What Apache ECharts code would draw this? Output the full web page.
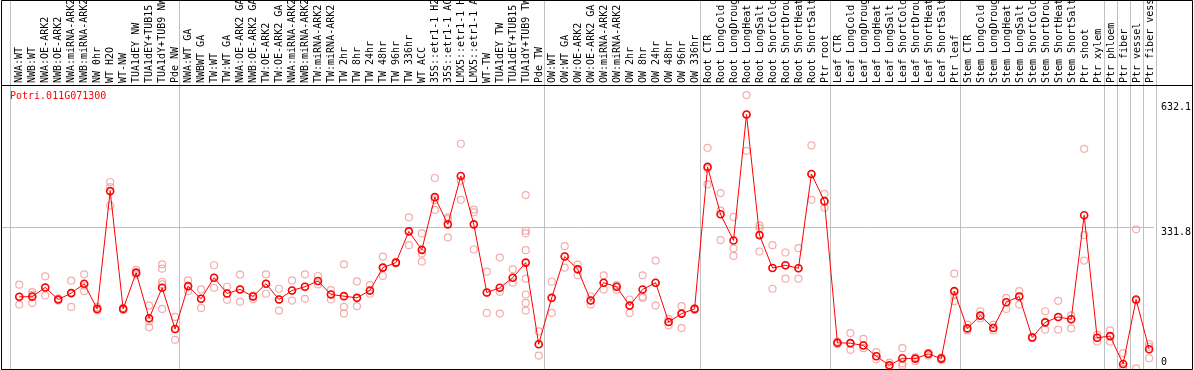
<!DOCTYPE html>
<html><head><meta charset="utf-8">
<script src="https://cdn.jsdelivr.net/npm/echarts@6/dist/echarts.min.js"></script>
<style>html,body{margin:0;padding:0;background:#fff}#c{width:1194px;height:370px}</style>
</head><body><div id="c"></div>
<script>
const geneId = 'Potri.011G071300';
const categories = [
  'NWA:WT','NWB:WT','NWA:OE-ARK2','NWB:OE-ARK2','NWA:miRNA-ARK2','NWB:miRNA-ARK2','NW 0hr','WT H2O','WT-NW',
  'TUA1dEY NW','TUA1dEY+TUB15 NW','TUA1dY+TUB9 NW','Pde NW',
  'NWA:WT GA','NWBWT GA','TW:WT','TW:WT GA','NWA:OE-ARK2 GA','NWB:OE-ARK2 GA','TW:OE-ARK2','TW:OE-ARK2 GA',
  'NWA:miRNA-ARK2 GA','NWB:miRNA-ARK2 GA','TW:miRNA-ARK2','TW:miRNA-ARK2 GA',
  'TW 2hr','TW 8hr','TW 24hr','TW 48hr','TW 96hr','TW 336hr','WT ACC',
  '35S::etr1-1 H2O','35S::etr1-1 ACC','LMX5::etr1-1 H2O','LMX5::etr1-1 ACC',
  'WT-TW','TUA1dEY TW','TUA1dEY+TUB15 TW','TUA1dY+TUB9 TW','Pde TW',
  'OW:WT','OW:WT GA','OW:OE-ARK2','OW:OE-ARK2 GA','OW:miRNA-ARK2','OW:miRNA-ARK2 GA',
  'OW 2hr','OW 8hr','OW 24hr','OW 48hr','OW 96hr','OW 336hr',
  'Root CTR','Root LongCold','Root LongDrought','Root LongHeat','Root LongSalt','Root ShortCold','Root ShortDrought','Root ShortHeat','Root ShortSalt','Ptr root',
  'Leaf CTR','Leaf LongCold','Leaf LongDrought','Leaf LongHeat','Leaf LongSalt','Leaf ShortCold','Leaf ShortDrought','Leaf ShortHeat','Leaf ShortSalt','Ptr leaf',
  'Stem CTR','Stem LongCold','Stem LongDrought','Stem LongHeat','Stem LongSalt','Stem ShortCold','Stem ShortDrought','Stem ShortHeat','Stem ShortSalt','Ptr shoot',
  'Ptr xylem','Ptr phloem','Ptr fiber','Ptr vessel','Ptr fiber vessel'
];
const meanValues = [
  168.7,169,190.6,162.4,177.3,199.2,140.4,415.7,140.4,225.1,118.4,189.8,93.3,
  193.7,164,213.3,176.5,185.9,169.4,199.2,162.4,183.5,192.2,205.5,174.1,
  170.2,166.3,183.5,236.9,248.6,321.6,278.4,401.6,338.0,451.0,338.0,
  178.8,189.8,213.3,248.6,58.0,
  166.3,262.7,232.9,160,201.6,192.2,148.2,185.9,201.6,109.8,129.4,140.4,
  472.2,361.6,300.4,594.5,312.9,236,242.4,235.3,455.7,392.2,
  61.2,60.4,54.9,29.8,8.6,25.1,24.3,35.3,24.3,181.9,
  94.9,124.7,95.7,156.1,169.4,73.7,109,121.6,116.1,359.2,
  72.9,76.9,11.8,162.4,46.3
];
const replicates = [
  [197,150.6,168],[179.6,174,154.5],[216.5,171.8,190],[160,165,162],[206.3,145.1,178],[221.2,181.9,195],
  [145,137,140],[436.9,425,381.9],[143,138,140],[231.4,221,224],[148.2,111.4,97.3],
  [244.7,234.5,203.9,197.6,140.4],[121.6,68.2,93],
  [207,181.9,193],[185.9,142.7,164],[242.4,189.8,213],[192.2,161.6,176],[220.4,156.9,186],[172,163,169],
  [221.2,175.8,199],[187.5,136.5,162],[207,160,183],[221.2,164,192],[217.3,197.6,205],[184.3,162.4,174],
  [244.7,145.1,129.4],[204.7,146.7,166],[196,175.8,183],[262.7,217.3,237],[250,247,249],[354.5,289.4,322],
  [316.9,251.0,270],[446.3,395,371.8],[354.5,307.5,350],[526.3,395.3,440],[372.5,366,279.2],
  [227.5,131,178],[260.4,180,129.4],[232.9,201.6,213],[406.3,323,317,277.6,211,174.1,154.5,136.5],[87.8,31.4,58],
  [203.9,131,166],[287,236.9,263],[244,219,233],[170,150.6,160],[218.8,185.9,201],[196,185,192],
  [162.4,131,148],[218.8,169,166],[253.3,148.2,201],[117,102,110],[146.7,95.7,129],[142,138,140],
  [516.9,468,431.3],[411,370.2,301.2],[355.3,281.6,264.3],[640,594,509.8],[334.9,328.7,274.5],
  [289.4,187.5,236],[272.2,211,242],[282.4,211,235],[522.4,395.3,455],[409.4,376.5,392],
  [64,58,61],[84,44.7,60],[70.6,48.6,55],[39.2,22.7,30],[14.9,5,8],[48.6,13.3,7.8],[28,18,24],[38,31,35],[27,21,24],
  [222.7,171.8,158.4],
  [103.5,90.2,95],[134.9,118,125],[103,90,96],[166.3,140.4,156],[181.9,150.6,170],[75,72,74],
  [134.9,91.8,109],[159.2,91.8,121],[125.5,94.9,116],[514.5,312.9,253.3],
  [80,64.3,73],[90.2,64.3,77],[36.9,0,5],[326.3,1.6,160],[58,52,25.1]
];
const yTickValues = [0, 331.8, 632.1];
const yTickLabels = ['0', '331.8', '632.1'];
const groupStarts = [0, 13, 41, 53, 63, 73, 84, 85, 86, 87];

const FONT = 'DejaVu Sans Mono';
const chart = echarts.init(document.getElementById('c'), null, {renderer: 'canvas'});

const mainData = meanValues.map((v, i) => [i, v]);
const repData = [];
replicates.forEach((arr, i) => arr.forEach(v => repData.push([i, v])));

const sepLine = {
  show: true,
  interval: (idx) => groupStarts.indexOf(idx) >= 0,
  lineStyle: {color: '#c0c0c0', width: 1}
};
const hiddenCat = {axisLine: {show: false}, axisTick: {show: false}, axisLabel: {show: false}};

chart.setOption({
  animation: false,
  backgroundColor: '#fff',
  title: {
    text: geneId, left: 10, top: 91, padding: 0,
    textStyle: {color: '#ff0000', fontFamily: FONT, fontSize: 10, fontWeight: 'normal'}
  },
  grid: [
    {left: 12.8, width: 1144, top: 0, height: 85},
    {left: 1, right: 38, top: 85, bottom: 1},
    {left: 10, right: 38, top: 85, bottom: 1},
    {left: 10, right: 38, top: 0, height: 85}
  ],
  xAxis: [
    {type: 'category', gridIndex: 0, data: categories, position: 'bottom', boundaryGap: true,
      axisLine: {show: false}, axisTick: {show: false}, splitLine: {show: false},
      axisLabel: {inside: true, rotate: 90, interval: 0, margin: 2,
        color: '#000', fontFamily: FONT, fontSize: 10}},
    {type: 'value', gridIndex: 1, min: -1.407, max: 87.37, show: false, splitLine: {show: false}},
    Object.assign({type: 'category', gridIndex: 2, data: categories, boundaryGap: true, splitLine: sepLine}, hiddenCat),
    Object.assign({type: 'category', gridIndex: 3, data: categories, boundaryGap: true, splitLine: sepLine}, hiddenCat)
  ],
  yAxis: [
    {type: 'value', gridIndex: 0, show: false, splitLine: {show: false}},
    {type: 'value', gridIndex: 1, position: 'right', min: 0, max: 663.6, interval: 331.8,
      axisLine: {show: false}, axisTick: {show: false},
      splitLine: {show: true, lineStyle: {color: '#c0c0c0', width: 1}},
      axisLabel: {
        customValues: yTickValues, margin: 7, color: '#000', fontFamily: FONT, fontSize: 10,
        formatter: function (v) {
          const i = yTickValues.findIndex(t => Math.abs(t - v) < 1e-6);
          const key = i === 0 ? 'z' : (i === 1 ? 'm' : 't');
          return '{' + key + '|' + (i >= 0 ? yTickLabels[i] : v) + '}';
        },
        rich: {
          z: {fontFamily: FONT, fontSize: 10, color: '#000', padding: [0, 0, 14, 0]},
          m: {fontFamily: FONT, fontSize: 10, color: '#000', padding: [10, 0, 0, 0]},
          t: {fontFamily: FONT, fontSize: 10, color: '#000', padding: [17, 0, 0, 0]}
        }
      }},
    {type: 'value', gridIndex: 2, show: false, splitLine: {show: false}},
    {type: 'value', gridIndex: 3, show: false, splitLine: {show: false}}
  ],
  series: [
    {type: 'scatter', xAxisIndex: 1, yAxisIndex: 1, data: repData, symbol: 'circle', symbolSize: 7,
      clip: false, silent: true, z: 2,
      itemStyle: {color: 'rgba(0,0,0,0)', borderColor: '#f09898', borderWidth: 1.2}},
    {type: 'line', xAxisIndex: 1, yAxisIndex: 1, data: mainData, symbol: 'circle', symbolSize: 7,
      showAllSymbol: true, clip: false, silent: true, z: 3,
      lineStyle: {color: '#ff0000', width: 1},
      itemStyle: {color: 'rgba(0,0,0,0)', borderColor: '#ff0000', borderWidth: 1.6}}
  ],
  graphic: [
    {type: 'rect', shape: {x: 1.5, y: 0.5, width: 1191, height: 369}, silent: true, z: 100,
      style: {fill: 'transparent', stroke: '#000', lineWidth: 1}},
    {type: 'line', shape: {x1: 1, y1: 85.5, x2: 1193, y2: 85.5}, silent: true, z: 100,
      style: {stroke: '#000', lineWidth: 1}}
  ]
});
</script>
</body></html>
